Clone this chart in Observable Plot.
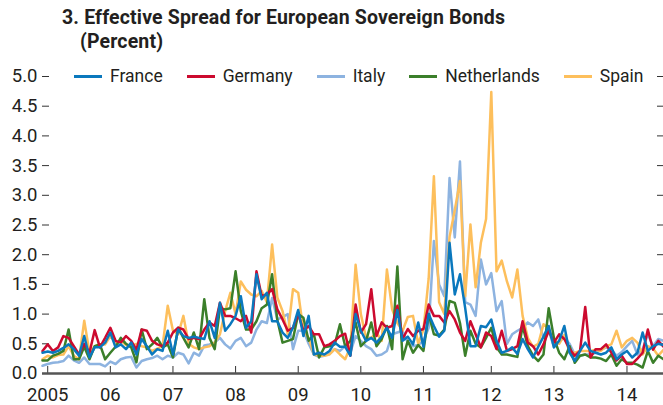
<!DOCTYPE html>
<html>
<head>
<meta charset="utf-8">
<script src="https://cdn.jsdelivr.net/npm/d3@7"></script>
<script src="https://cdn.jsdelivr.net/npm/@observablehq/plot@0.6"></script>
<style>
  html, body { margin: 0; padding: 0; background: #fff; }
  #wrap { position: relative; width: 663px; height: 405px; overflow: hidden;
    font-family: Roboto, "Liberation Sans", sans-serif; color: #231f20; }
  #title { position: absolute; left: 62px; top: 6px; font-weight: bold; font-size: 19.5px; line-height: 24px; letter-spacing: 0.15px; }
  #title .sub { padding-left: 18px; }
  #legend { position: absolute; left: 74px; top: 64px; display: flex; align-items: center; font-size: 17.5px; line-height: 24px; }
  #legend .item { display: flex; align-items: center; margin-right: 24px; }
  #legend .sw { width: 28px; height: 3px; margin-right: 8px; }
  #chart { position: absolute; left: 0; top: 0; }
</style>
</head>
<body>
<div id="wrap">
  <div id="chart"></div>
  <div id="title">3. Effective Spread for European Sovereign Bonds<br><span class="sub">(Percent)</span></div>
  <div id="legend"></div>
</div>
<script>
// Monthly observations, Jan 2005 onward (index = month position on the chart)
const seriesNames = ["France", "Germany", "Italy", "Netherlands", "Spain"];
const seriesColors = ["#0a78bd", "#cc0a2f", "#8db3e0", "#3b7f2a", "#fdbf5c"];

const france = [
  0.35,0.37,0.35,0.38,0.43,0.49,0.41,0.30,0.63,0.27,
  0.44,0.44,0.52,0.69,0.44,0.49,0.41,0.52,0.32,0.58,
  0.46,0.32,0.41,0.38,0.72,0.32,0.74,0.63,0.60,0.62,
  0.60,0.58,0.88,0.60,1.19,0.72,0.83,0.97,1.30,0.77,
  0.88,1.67,1.25,1.36,0.88,0.88,0.69,0.60,0.77,1.07,
  0.63,0.97,0.32,0.35,0.32,0.38,0.52,0.45,0.45,0.30,
  1.00,0.72,0.55,0.60,0.52,0.62,0.77,0.60,1.07,0.55,
  0.62,0.49,0.86,0.45,1.00,0.80,0.62,0.72,2.20,1.33,
  1.67,1.10,0.46,0.46,0.80,0.78,0.91,0.55,0.35,0.38,
  0.44,0.33,0.58,0.41,0.27,0.45,0.62,0.80,0.44,0.55,
  0.80,0.35,0.21,0.38,0.52,0.38,0.35,0.32,0.35,0.44,
  0.24,0.32,0.38,0.27,0.35,0.69,0.38,0.46,0.50,0.48
];
const germany = [
  0.38,0.49,0.38,0.44,0.63,0.60,0.46,0.32,0.50,0.35,
  0.73,0.44,0.60,0.77,0.55,0.52,0.63,0.55,0.40,0.74,
  0.72,0.55,0.49,0.46,0.52,0.69,0.77,0.74,0.58,0.60,
  0.58,0.74,0.86,0.80,1.19,0.97,0.97,0.93,0.88,0.97,
  0.69,1.72,1.30,1.33,1.42,1.08,0.91,0.72,0.77,1.00,
  0.72,0.80,0.66,0.66,0.46,0.49,0.55,0.63,0.67,0.30,
  1.16,0.69,0.83,1.42,0.63,0.86,0.77,0.80,1.14,0.58,
  0.75,0.63,0.72,0.75,1.16,0.97,0.97,0.86,1.05,0.91,
  0.69,0.55,0.88,0.66,0.44,0.69,0.63,0.41,0.72,0.38,
  0.41,0.46,0.88,0.52,0.46,0.32,0.49,0.72,0.52,0.66,
  0.58,0.41,0.30,0.38,1.12,0.27,0.41,0.41,0.49,0.35,
  0.22,0.30,0.16,0.16,0.25,0.35,0.74,0.40,0.55,0.45
];
const italy = [
  0.13,0.16,0.18,0.19,0.21,0.30,0.22,0.18,0.27,0.16,
  0.16,0.16,0.12,0.20,0.16,0.24,0.27,0.28,0.10,0.21,
  0.24,0.26,0.30,0.24,0.30,0.27,0.35,0.32,0.17,0.35,
  0.30,0.47,0.49,0.52,0.60,0.49,0.42,0.55,0.60,0.46,
  0.52,0.74,0.88,0.85,1.27,0.91,0.95,1.00,0.41,0.72,
  0.72,0.50,0.32,0.28,0.30,0.33,0.41,0.38,0.46,0.36,
  0.63,0.55,0.46,0.41,0.30,0.32,0.38,0.66,0.69,0.72,
  0.52,0.46,0.48,0.55,0.77,2.23,1.50,1.30,3.29,2.29,
  3.57,1.20,1.16,0.97,1.92,1.50,1.69,1.05,1.22,0.50,
  0.66,0.72,0.77,0.86,0.80,0.91,0.60,0.72,0.45,0.55,
  0.60,0.50,0.32,0.30,0.32,0.32,0.35,0.40,0.44,0.40,
  0.30,0.36,0.46,0.55,0.32,0.41,0.66,0.46,0.58,0.55
];
const netherlands = [
  0.22,0.22,0.30,0.33,0.38,0.74,0.24,0.24,0.45,0.24,
  0.46,0.49,0.24,0.35,0.45,0.60,0.50,0.44,0.19,0.74,
  0.41,0.49,0.60,0.44,0.49,0.27,0.77,0.60,0.44,0.69,
  0.41,1.25,0.60,0.41,1.10,1.08,1.10,1.72,1.05,0.74,
  0.74,0.88,1.10,1.16,1.67,0.90,0.52,0.55,0.58,1.00,
  0.94,0.55,0.66,0.27,0.44,0.46,0.49,0.83,0.46,0.55,
  0.86,0.46,0.55,0.86,0.46,0.58,0.80,0.41,1.80,0.24,
  0.55,0.35,0.48,0.38,1.00,0.66,0.64,0.74,1.22,1.19,
  0.85,0.30,0.72,0.50,0.44,0.60,0.77,0.44,0.32,0.32,
  0.30,0.28,0.80,0.46,0.30,0.21,0.32,1.10,0.60,0.35,
  0.24,0.46,0.18,0.30,0.32,0.27,0.27,0.25,0.21,0.32,
  0.13,0.24,0.18,0.18,0.15,0.10,0.38,0.18,0.30,0.24
];
const spain = [
  0.24,0.30,0.27,0.31,0.32,0.46,0.30,0.24,0.89,0.35,
  0.46,0.49,0.49,0.63,0.52,0.55,0.48,0.46,0.50,0.46,
  0.44,0.38,0.42,0.46,1.14,0.72,0.66,0.97,0.50,0.44,
  0.41,0.44,0.46,0.52,0.66,1.05,1.36,1.00,1.55,1.41,
  1.33,1.30,1.39,1.20,2.17,1.28,1.05,0.66,1.42,1.36,
  0.72,0.60,0.32,0.30,0.30,0.32,0.41,0.32,0.24,0.45,
  1.83,1.00,0.60,0.60,0.69,0.55,1.75,1.08,0.85,0.72,
  0.95,0.97,0.50,0.74,1.60,3.32,1.20,1.00,2.30,2.75,
  3.24,1.30,2.51,1.45,2.20,2.60,4.74,1.72,1.90,1.55,
  1.28,1.75,0.97,0.60,0.45,0.50,0.83,0.75,0.55,0.50,
  0.65,0.35,0.35,0.38,0.38,0.38,0.40,0.38,0.46,0.49,
  0.72,0.44,0.55,0.60,0.52,0.32,0.46,0.42,0.30,0.40
];

// Axis ticks: month index where each year label sits, and its label
const xTickIndex = [1, 13, 25, 37, 49, 61, 73, 86, 98, 112];
const xTickLabels = ["2005", "06", "07", "08", "09", "10", "11", "12", "13", "14"];
const yTicks = [0, 0.5, 1, 1.5, 2, 2.5, 3, 3.5, 4, 4.5, 5];

const seriesValues = {France: france, Germany: germany, Italy: italy, Netherlands: netherlands, Spain: spain};
const drawOrder = ["Italy", "Spain", "Netherlands", "Germany", "France"];
const rows = [];
for (const name of drawOrder) {
  seriesValues[name].forEach((v, i) => rows.push({name, i, v}));
}

const font = 'Roboto, "Liberation Sans", sans-serif';
const chart = Plot.plot({
  width: 663,
  height: 405,
  marginTop: 76,
  marginBottom: 32,
  marginLeft: 42,
  marginRight: 0,
  style: {fontFamily: font, fontSize: "18.5px", color: "#231f20", background: "transparent", overflow: "visible"},
  x: {type: "linear", domain: [0, france.length - 1], label: null},
  y: {domain: [0, 5], label: null},
  color: {domain: seriesNames, range: seriesColors},
  marks: [
    Plot.axisY({anchor: "left", ticks: yTicks, tickSize: 7, dx: 7, tickPadding: 5, tickFormat: d3.format(".1f"), label: null, stroke: "#333"}),
    Plot.axisY({anchor: "right", ticks: yTicks, tickSize: 7, dx: -7, tickFormat: () => "", label: null, stroke: "#333"}),
    Plot.axisX({anchor: "bottom", ticks: xTickIndex, tickSize: 7, dy: -7, tickPadding: 14, tickFormat: d => xTickLabels[xTickIndex.indexOf(d)], label: null, stroke: "#333"}),
    Plot.line(rows, {x: "i", y: "v", z: "name", stroke: "name", strokeWidth: 2.5, strokeLinejoin: "round"}),
    Plot.ruleY([0], {stroke: "#555", strokeWidth: 2.5})
  ]
});
document.getElementById("chart").appendChild(chart);

const legend = document.getElementById("legend");
seriesNames.forEach((n, k) => {
  const item = document.createElement("div");
  item.className = "item";
  const sw = document.createElement("span");
  sw.className = "sw";
  sw.style.background = seriesColors[k];
  const t = document.createElement("span");
  t.textContent = n;
  item.appendChild(sw);
  item.appendChild(t);
  legend.appendChild(item);
});
</script>
</body>
</html>
